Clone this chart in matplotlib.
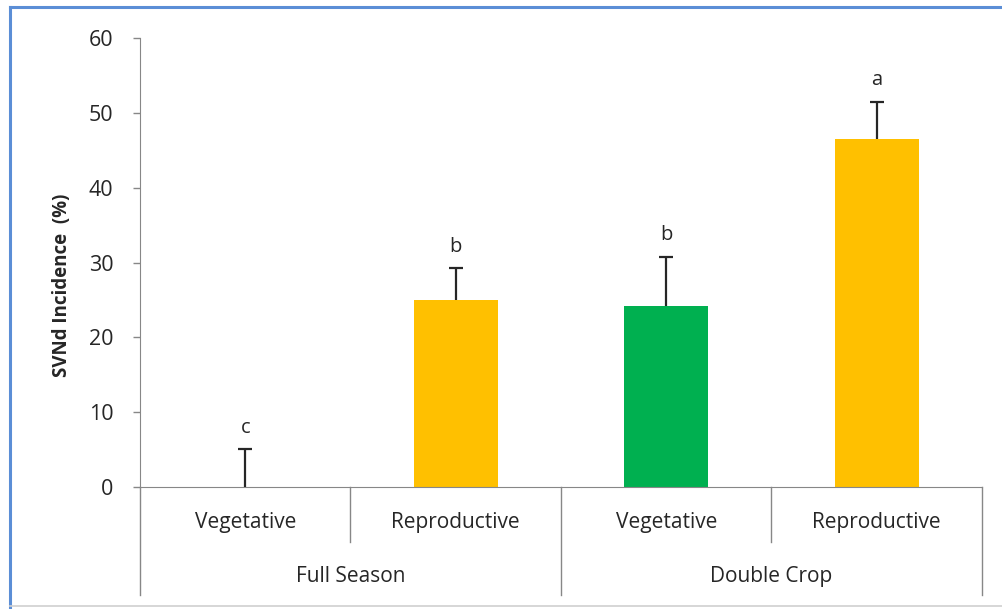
import numpy as np
import matplotlib.pyplot as plt
from matplotlib.lines import Line2D
from matplotlib.transforms import blended_transform_factory

# data
groups = ["Full Season", "Double Crop"]
stages = ["Vegetative", "Reproductive", "Vegetative", "Reproductive"]
means = [0.0, 25.0, 24.2, 46.5]
errors = [5.1, 4.2, 6.6, 5.0]
letters = ["c", "b", "b", "a"]
colors = ["#FFC000", "#FFC000", "#00B050", "#FFC000"]

plt.rcParams['font.family'] = ['Open Sans', 'DejaVu Sans']

fig = plt.figure(figsize=(10.02, 6.09), dpi=100)
ax = fig.add_axes([0.1397, 0.2003, 0.8403, 0.7373])

x = np.arange(len(means))
tops = np.array(means) + np.array(errors)
ax.bar(x, means, width=0.4, color=colors, zorder=2)
# upper-only error bars with a single cap
ax.vlines(x, means, tops, color='#262626', lw=1.6, zorder=3)
ax.hlines(tops, x - 0.033, x + 0.033, color='#262626', lw=1.6, zorder=3)

for xi, t, lab in zip(x, tops, letters):
    ax.text(xi, t + 1.5, lab, ha='center', va='bottom', fontsize=14.5,
            color='#262626')

ax.set_xlim(-0.5, 3.5)
ax.set_ylim(0, 60)
ax.set_yticks(range(0, 61, 10))
ax.tick_params(axis='y', labelsize=15.5, colors='#878787', labelcolor='#262626',
               length=5, width=1, pad=14)
ax.set_xticks([])
for s in ['top', 'right']:
    ax.spines[s].set_visible(False)
ax.spines['left'].set_color('#878787')
ax.spines['bottom'].set_color('#878787')
ax.set_ylabel("SVNd Incidence  (%)", fontsize=13.5, fontweight='bold',
              color='#262626', va='center')
ax.yaxis.set_label_coords(-0.093, 0.45)

# multi-level category axis
trans = blended_transform_factory(ax.transData, ax.transAxes)
for xs, low in [(-0.5, -0.2405), (0.5, -0.1225), (1.5, -0.2405),
                (2.5, -0.1225), (3.5, -0.2405)]:
    ax.plot([xs, xs], [0, low], transform=trans, color='#878787', lw=1,
            clip_on=False)
for xi, st in zip(x, stages):
    ax.text(xi, -0.078, st, transform=trans, ha='center', va='center',
            fontsize=15, color='#262626')
for gi, g in enumerate(groups):
    ax.text(0.5 + 2 * gi, -0.2, g, transform=trans, ha='center', va='center',
            fontsize=15, color='#262626')

# frame of the original screenshot
fig.add_artist(Line2D([0.0098, 1], [0.9885, 0.9885], color='#5B8ED6', lw=2.2,
                      transform=fig.transFigure))
fig.add_artist(Line2D([0.0098, 0.0098], [0, 0.9885], color='#5B8ED6', lw=2.2,
                      transform=fig.transFigure))
fig.add_artist(Line2D([0.0098, 1], [0.005, 0.005], color='#D0D0D0', lw=1.2,
                      transform=fig.transFigure))

fig.savefig("out.png", dpi=100)
